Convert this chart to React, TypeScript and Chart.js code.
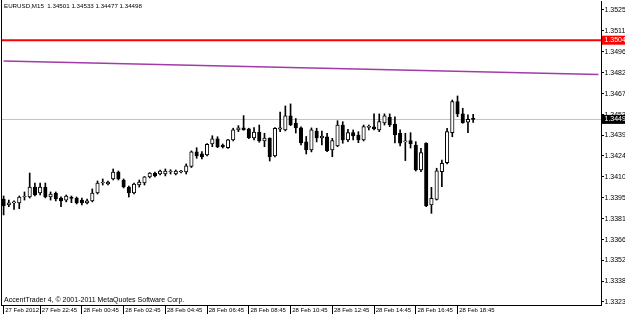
import React, { useEffect, useRef } from "react";
import { Chart, registerables } from "chart.js";

Chart.register(...registerables);

// ---------- data ----------
const symbolTitle = "EURUSD,M15";
const copyrightText = "AccentTrader 4, © 2001-2011 MetaQuotes Software Corp.";

// first bar: 27 Feb 2012 21:00, M15 bars; extra empty slots = chart shift on the right
const firstDay = 27;
const firstMinute = 21 * 60;
const barMinutes = 15;
const slotCount = 115;

const xTickLabels = [
  "27 Feb 2012",
  "27 Feb 22:45",
  "28 Feb 00:45",
  "28 Feb 02:45",
  "28 Feb 04:45",
  "28 Feb 06:45",
  "28 Feb 08:45",
  "28 Feb 10:45",
  "28 Feb 12:45",
  "28 Feb 14:45",
  "28 Feb 16:45",
  "28 Feb 18:45",
];

const yTickLabels = [
  "1.35255", "1.35110", "1.34965", "1.34820", "1.34675", "1.34530", "1.34390",
  "1.34245", "1.34100", "1.33955", "1.33810", "1.33665", "1.33525", "1.33380", "1.33235",
];

const opens = [
  1.33947, 1.33906, 1.33920, 1.33920, 1.33961, 1.33961, 1.34030, 1.33989, 1.34028, 1.33961,
  1.33989, 1.33954, 1.33940, 1.33954, 1.33954, 1.33940, 1.33920, 1.33934, 1.33989, 1.34058,
  1.34051, 1.34086, 1.34134, 1.34079, 1.34030, 1.33989, 1.34044, 1.34058, 1.34100, 1.34127,
  1.34120, 1.34120, 1.34134, 1.34120, 1.34134, 1.34134, 1.34172, 1.34273, 1.34259, 1.34252,
  1.34328, 1.34363, 1.34321, 1.34302, 1.34356, 1.34425, 1.34439, 1.34432, 1.34370, 1.34411,
  1.34349, 1.34368, 1.34245, 1.34430, 1.34425, 1.34522, 1.34473, 1.34439, 1.34342, 1.34287,
  1.34418, 1.34369, 1.34378, 1.34287, 1.34314, 1.34459, 1.34356, 1.34406, 1.34390, 1.34356,
  1.34443, 1.34446, 1.34425, 1.34473, 1.34513, 1.34466, 1.34402, 1.34342, 1.34351, 1.34321,
  1.34148, 1.34333, 1.33906, 1.33945, 1.34136, 1.34199, 1.34406, 1.34621, 1.34536, 1.34478,
  1.34501,
];
const highs = [
  1.33968, 1.33940, 1.33934, 1.33968, 1.33996, 1.34127, 1.34058, 1.34058, 1.34058, 1.33996,
  1.33996, 1.33963, 1.33975, 1.33968, 1.33961, 1.33954, 1.33947, 1.34017, 1.34072, 1.34086,
  1.34072, 1.34155, 1.34141, 1.34086, 1.34037, 1.34058, 1.34079, 1.34103, 1.34130, 1.34134,
  1.34148, 1.34155, 1.34150, 1.34148, 1.34145, 1.34190, 1.34280, 1.34302, 1.34275, 1.34330,
  1.34385, 1.34378, 1.34328, 1.34360, 1.34437, 1.34455, 1.34524, 1.34437, 1.34441, 1.34459,
  1.34402, 1.34370, 1.34441, 1.34549, 1.34591, 1.34605, 1.34504, 1.34446, 1.34380, 1.34439,
  1.34437, 1.34418, 1.34402, 1.34367, 1.34489, 1.34482, 1.34430, 1.34425, 1.34413, 1.34459,
  1.34459, 1.34536, 1.34536, 1.34536, 1.34536, 1.34515, 1.34425, 1.34402, 1.34406, 1.34344,
  1.34298, 1.34337, 1.34028, 1.34160, 1.34217, 1.34437, 1.34632, 1.34660, 1.34575, 1.34529,
  1.34533,
];
const lows = [
  1.33837, 1.33894, 1.33876, 1.33880, 1.33940, 1.33954, 1.33968, 1.33975, 1.33955, 1.33940,
  1.33934, 1.33894, 1.33927, 1.33922, 1.33913, 1.33906, 1.33913, 1.33927, 1.33982, 1.34044,
  1.34044, 1.34079, 1.34079, 1.34024, 1.33961, 1.33982, 1.34030, 1.34044, 1.34093, 1.34100,
  1.34114, 1.34107, 1.34120, 1.34114, 1.34127, 1.34120, 1.34165, 1.34229, 1.34224, 1.34245,
  1.34309, 1.34302, 1.34300, 1.34298, 1.34349, 1.34413, 1.34423, 1.34365, 1.34356, 1.34340,
  1.34309, 1.34210, 1.34238, 1.34413, 1.34418, 1.34455, 1.34404, 1.34321, 1.34259, 1.34273,
  1.34342, 1.34321, 1.34275, 1.34240, 1.34309, 1.34333, 1.34344, 1.34356, 1.34337, 1.34349,
  1.34425, 1.34425, 1.34413, 1.34459, 1.34448, 1.34335, 1.34314, 1.34213, 1.34300, 1.34141,
  1.34136, 1.33894, 1.33848, 1.33940, 1.34032, 1.34190, 1.34378, 1.34517, 1.34471, 1.34406,
  1.34477,
];
const closes = [
  1.33899, 1.33920, 1.33922, 1.33961, 1.33965, 1.34030, 1.33975, 1.34030, 1.33961, 1.33982,
  1.33947, 1.33934, 1.33968, 1.33952, 1.33920, 1.33920, 1.33934, 1.33989, 1.34058, 1.34060,
  1.34065, 1.34134, 1.34086, 1.34030, 1.33989, 1.34051, 1.34065, 1.34100, 1.34127, 1.34107,
  1.34141, 1.34141, 1.34136, 1.34141, 1.34134, 1.34176, 1.34273, 1.34245, 1.34238, 1.34326,
  1.34363, 1.34307, 1.34307, 1.34356, 1.34425, 1.34439, 1.34425, 1.34372, 1.34411, 1.34349,
  1.34369, 1.34240, 1.34437, 1.34440, 1.34522, 1.34459, 1.34439, 1.34335, 1.34286, 1.34425,
  1.34369, 1.34383, 1.34282, 1.34351, 1.34459, 1.34356, 1.34406, 1.34383, 1.34356, 1.34448,
  1.34446, 1.34432, 1.34482, 1.34522, 1.34459, 1.34390, 1.34333, 1.34344, 1.34328, 1.34148,
  1.34268, 1.33899, 1.33952, 1.34143, 1.34194, 1.34413, 1.34621, 1.34536, 1.34475, 1.34499,
  1.34498,
];

// horizontal level (red) and trend line (purple) endpoints
const redLevel = 1.35046;
const trendStart = 1.34902;
const trendEnd = 1.34809;

const yMin = 1.33214;
const yMax = 1.35317;

// ---------- helpers ----------
const FONT = "'Liberation Sans', Arial, sans-serif";
const pad2 = (n: number) => (n < 10 ? "0" + n : "" + n);
const slotLabels: string[] = [];
for (let i = 0; i < slotCount; i++) {
  const m = firstMinute + i * barMinutes;
  const day = firstDay + Math.floor(m / 1440);
  const mm = m % 1440;
  slotLabels.push(`${day} Feb ${pad2(Math.floor(mm / 60))}:${pad2(mm % 60)}`);
}
const last = opens.length - 1;
const bidLevel = closes[last];

const trendData: (number | null)[] = slotLabels.map((_, i) =>
  i === 0 ? trendStart : i === slotCount - 1 ? trendEnd : null
);

const overlayPlugin = {
  id: "mt4overlay",
  beforeDatasetsDraw(chart: any) {
    const { ctx, chartArea: a } = chart;
    const y = chart.scales.y;
    ctx.save();
    const yb = Math.round(y.getPixelForValue(bidLevel)) + 0.5;
    ctx.strokeStyle = "#c4c4c4";
    ctx.lineWidth = 1;
    ctx.beginPath();
    ctx.moveTo(a.left, yb);
    ctx.lineTo(a.right, yb);
    ctx.stroke();
    const yr = y.getPixelForValue(redLevel);
    ctx.strokeStyle = "#ff0000";
    ctx.lineWidth = 2;
    ctx.beginPath();
    ctx.moveTo(a.left, yr);
    ctx.lineTo(a.right, yr);
    ctx.stroke();
    ctx.restore();
  },
  afterDraw(chart: any) {
    const { ctx, chartArea: a } = chart;
    const y = chart.scales.y;
    ctx.save();
    ctx.strokeStyle = "#000";
    ctx.lineWidth = 1;
    ctx.beginPath();
    ctx.moveTo(a.left + 0.5, 0);
    ctx.lineTo(a.left + 0.5, a.bottom);
    ctx.stroke();

    ctx.font = `7px ${FONT}`;
    ctx.textBaseline = "middle";
    ctx.textAlign = "left";
    const tag = (v: number, bg: string) => {
      const py = y.getPixelForValue(v);
      ctx.fillStyle = bg;
      ctx.fillRect(a.right + 1, py - 4.5, 30, 9);
      ctx.fillStyle = "#ffffff";
      ctx.fillText(v.toFixed(5), a.right + 3.5, py);
    };
    tag(redLevel, "#ff0000");
    tag(bidLevel, "#000000");

    ctx.fillStyle = "#000";
    ctx.font = `6.2px ${FONT}`;
    ctx.fillText(
      `${symbolTitle}  ${opens[last].toFixed(5)} ${highs[last].toFixed(5)} ${lows[last].toFixed(5)} ${closes[last].toFixed(5)}`,
      4,
      6
    );
    ctx.font = `7px ${FONT}`;
    ctx.fillText(copyrightText, 4, 300);
    ctx.restore();
  },
};

export default function App() {
  const ref = useRef<HTMLCanvasElement>(null);
  useEffect(() => {
    document.body.style.margin = "0";
    const canvas = ref.current;
    if (!canvas) return;
    const chart = new Chart(canvas, {
      type: "bar",
      data: {
        labels: slotLabels,
        datasets: [
          {
            type: "bar",
            label: "body",
            order: 0,
            data: opens.map((o, i) => [o, closes[i]]) as any,
            backgroundColor: opens.map((o, i) => (closes[i] >= o ? "#ffffff" : "#000000")),
            borderColor: "#000000",
            borderWidth: 1,
            borderSkipped: false,
            barThickness: 3.5,
            minBarLength: 1,
            grouped: false,
          },
          {
            type: "bar",
            label: "wick",
            order: 1,
            data: lows.map((l, i) => [l, highs[i]]) as any,
            backgroundColor: "#000000",
            borderWidth: 0,
            barThickness: 1,
            grouped: false,
          },
          {
            type: "line",
            label: "trend",
            order: 2,
            data: trendData as any,
            borderColor: "#a23aa8",
            borderWidth: 1.6,
            pointRadius: 0,
            spanGaps: true,
            fill: false,
          },
        ],
      },
      options: {
        responsive: false,
        animation: false,
        devicePixelRatio: 1,
        events: [],
        layout: { padding: { left: 1, top: 1, right: 0, bottom: 0 } },
        plugins: { legend: { display: false }, tooltip: { enabled: false }, title: { display: false } },
        scales: {
          x: {
            type: "category",
            offset: true,
            grid: { offset: false, drawOnChartArea: false, drawTicks: true, tickLength: 9, color: "#000" },
            border: { display: true, color: "#000" },
            ticks: {
              autoSkip: false,
              maxRotation: 0,
              minRotation: 0,
              align: "start",
              padding: -7,
              color: "#000",
              font: { family: FONT, size: 6 },
              callback: function (this: any, value: any) {
                const idx = Number(value);
                return " " + (idx === 0 ? xTickLabels[0] : slotLabels[idx]);
              },
            },
            afterBuildTicks: (scale: any) => {
              scale.ticks = scale.ticks.filter(
                (t: any) => t.value === 0 || xTickLabels.indexOf(slotLabels[t.value]) > 0
              );
            },
            afterFit: (scale: any) => {
              scale.height = 12;
              scale.paddingLeft = 0;
              scale.paddingRight = 0;
            },
          },
          y: {
            type: "linear",
            position: "right",
            min: yMin,
            max: yMax,
            grid: { drawOnChartArea: false, drawTicks: true, tickLength: 3, color: "#000" },
            border: { display: true, color: "#000" },
            ticks: {
              padding: 0.5,
              color: "#000",
              font: { family: FONT, size: 7 },
              callback: (v: any) => Number(v).toFixed(5),
            },
            afterBuildTicks: (scale: any) => {
              scale.ticks = yTickLabels.map((s) => ({ value: parseFloat(s) }));
            },
            afterFit: (scale: any) => {
              scale.width = 24;
              scale.paddingTop = 0;
              scale.paddingBottom = 0;
            },
          },
        },
      },
      plugins: [overlayPlugin],
    });
    return () => chart.destroy();
  }, []);
  return (
    <div style={{ width: 625, height: 317 }}>
      <canvas ref={ref} width={625} height={317} style={{ display: "block" }} />
    </div>
  );
}
